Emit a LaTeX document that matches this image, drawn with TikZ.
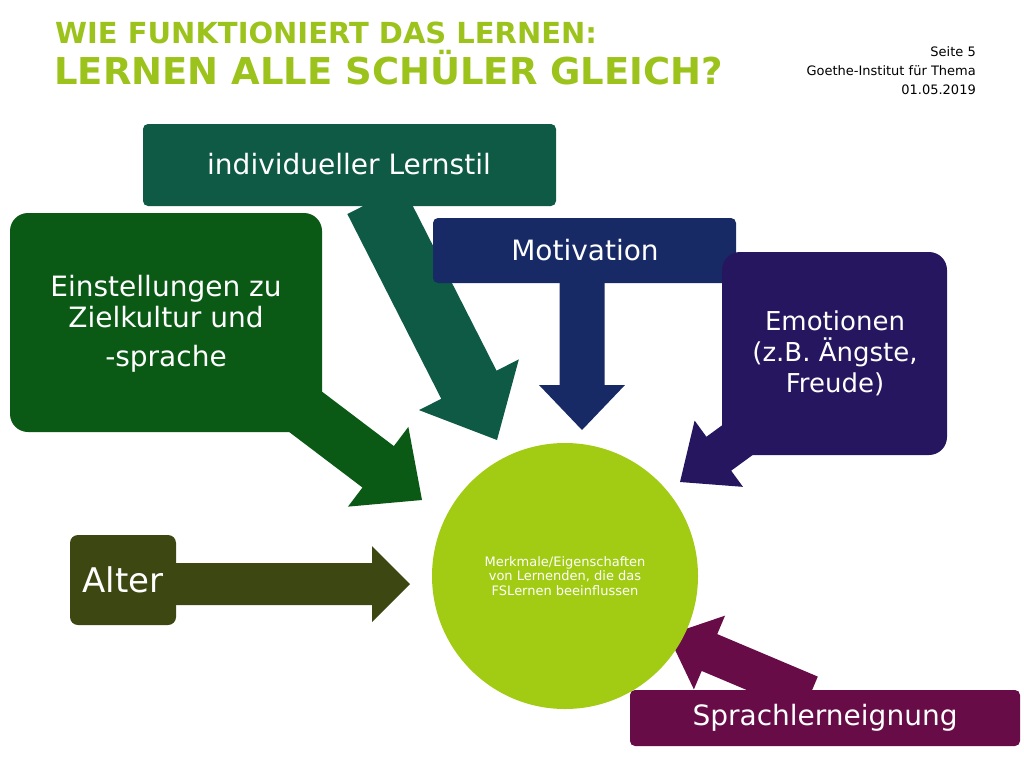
\documentclass[tikz,border=0pt]{standalone}
\usepackage{fontspec}
\setmainfont{DejaVu Sans}
\usetikzlibrary{calc}
\definecolor{tgreen}{HTML}{9BC31C}
\definecolor{cteal}{HTML}{0E5A44}
\definecolor{cgreen}{HTML}{0A5A16}
\definecolor{cnavy}{HTML}{172A66}
\definecolor{cpurp}{HTML}{26165F}
\definecolor{colive}{HTML}{3C4712}
\definecolor{cmag}{HTML}{680C48}
\definecolor{ccirc}{HTML}{A2CC14}
\tikzset{box/.style={rounded corners=#1,text=white,align=center,inner sep=0pt},
 circ/.style={circle,inner sep=0pt,text=white,align=center,font=\fontsize{13}{14.5}\selectfont}}
\newcommand\barrow[6]{%
 \coordinate (hh) at ($(#2)!#5pt!(#1)$);
 \fill[#6] ($(#1)!#3pt/2!90:(#2)$) -- ($(hh)!#3pt/2!-90:(#1)$) -- ($(hh)!#4pt/2!-90:(#1)$) -- (#2) -- ($(hh)!#4pt/2!90:(#1)$) -- ($(hh)!#3pt/2!90:(#1)$) -- ($(#1)!#3pt/2!-90:(#2)$) -- cycle;}
\begin{document}
\begin{tikzpicture}[x=1pt,y=-1pt]
\useasboundingbox (0,0) rectangle (1024,768);
\node[anchor=west,inner sep=0pt,text=tgreen,font=\bfseries\fontsize{29}{30}\selectfont] (t1) at (55,33) {WIE FUNKTIONIERT DAS LERNEN:};
\node[anchor=west,inner sep=0pt,text=tgreen,font=\bfseries\fontsize{37}{38}\selectfont] (t2) at (54,68) {LERNEN ALLE SCHÜLER GLEICH?};
\node[anchor=north east,inner sep=0pt,align=right,font=\fontsize{13}{19}\selectfont] (info) at (976,46) {Seite 5\\Goethe-Institut für Thema\\01.05.2019};
\coordinate (a1) at (375,200); \coordinate (b1) at (497,440);
\coordinate (a2) at (290,400); \coordinate (b2) at (422,500);
\coordinate (a3) at (582,280); \coordinate (b3) at (582,430);
\coordinate (a4) at (765,420); \coordinate (b4) at (680,482);
\coordinate (a5) at (170,584); \coordinate (b5) at (410,584);
\coordinate (a6) at (810,695); \coordinate (b6) at (668,635);
\barrow{a1}{b1}{62}{112}{62}{cteal}
\barrow{a2}{b2}{52}{100}{55}{cgreen}
\barrow{a3}{b3}{45}{86}{45}{cnavy}
\barrow{a4}{b4}{42}{82}{48}{cpurp}
\barrow{a5}{b5}{42}{76}{38}{colive}
\barrow{a6}{b6}{40}{80}{45}{cmag}
\node[circ,fill=ccirc,minimum size=266pt] (c) at (565,576) {Merkmale/Eigenschaften\\von Lernenden, die das\\FSLernen beeinflussen};
\fill[box=5,cteal] (143,124) rectangle (556,206);
\node[text=white,font=\fontsize{28}{32}\selectfont] (n1) at (349,164) {individueller Lernstil};
\fill[box=18,cgreen] (10,213) rectangle (322,432);
\node[text=white,align=center,font=\fontsize{28}{31}\selectfont] (n2) at (166,302) {Einstellungen zu\\Zielkultur und};
\node[text=white,font=\fontsize{28}{31}\selectfont] (n2b) at (166,359) {-sprache};
\fill[box=5,cnavy] (433,218) rectangle (736,283);
\node[text=white,font=\fontsize{28}{32}\selectfont] (n3) at (585,250) {Motivation};
\fill[box=18,cpurp] (722,252) rectangle (947,455);
\node[text=white,align=center,font=\fontsize{26}{31}\selectfont] (n4) at (835,353) {Emotionen\\(z.B. Ängste,\\Freude)};
\fill[box=8,colive] (70,535) rectangle (176,625);
\node[text=white,font=\fontsize{34}{36}\selectfont] (n5) at (123,580) {Alter};
\fill[box=5,cmag] (630,690) rectangle (1020,746);
\node[text=white,font=\fontsize{28}{30}\selectfont] (n6) at (825,718) {Sprachlerneignung};
\end{tikzpicture}
\end{document}
